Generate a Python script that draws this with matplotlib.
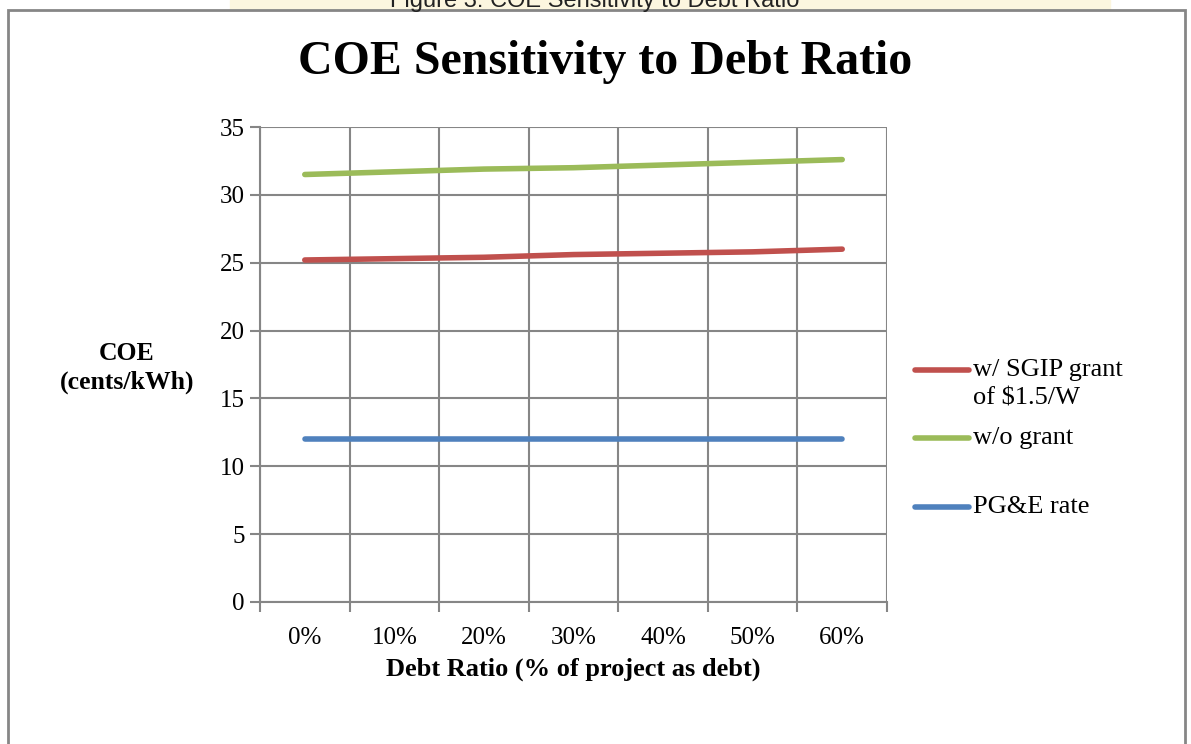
import matplotlib.pyplot as plt
from matplotlib.patches import Rectangle
from matplotlib.lines import Line2D

# Data
categories = ['0%', '10%', '20%', '30%', '40%', '50%', '60%']
with_grant = [25.2, 25.3, 25.4, 25.6, 25.7, 25.8, 26.0]
without_grant = [31.5, 31.7, 31.9, 32.0, 32.2, 32.4, 32.6]
pge_rate = [12, 12, 12, 12, 12, 12, 12]

series_labels = ['w/ SGIP grant\nof $1.5/W', 'w/o grant', 'PG&E rate']
series_colors = ['#c0504d', '#9bbb59', '#4f81bd']

W, H = 1191, 744
plt.rcParams['font.family'] = ['Liberation Serif', 'DejaVu Serif']

fig = plt.figure(figsize=(W / 100, H / 100), dpi=100)

# pale watermark strip and clipped caption at the very top
fig.patches.append(Rectangle((230 / W, 1 - 10 / H), 880 / W, 10 / H,
                             transform=fig.transFigure, color='#fcf6df', zorder=0))
fig.text(595 / W, 1 - 1 / H, 'Figure 3: COE Sensitivity to Debt Ratio',
         family='Liberation Sans', fontsize=17, ha='center', va='center', color='#222222')

# chart border
fig.patches.append(Rectangle((8 / W, -0.05), (1185 - 8) / W, 1 - 10 / H + 0.05,
                             transform=fig.transFigure, fill=False,
                             edgecolor='#868686', linewidth=2, zorder=1))

ax = fig.add_axes([260 / W, 1 - 602 / H, (887 - 260) / W, (602 - 127) / H])
x = list(range(len(categories)))
ax.plot(x, with_grant, color=series_colors[0], linewidth=4, solid_capstyle='round')
ax.plot(x, without_grant, color=series_colors[1], linewidth=4, solid_capstyle='round')
ax.plot(x, pge_rate, color=series_colors[2], linewidth=4, solid_capstyle='round')

ax.set_xlim(-0.5, len(categories) - 0.5)
ax.set_ylim(0, 35)
ax.set_yticks(range(0, 36, 5))
ax.set_xticks(x)
ax.set_xticklabels(categories)
ax.set_xticks([i + 0.5 for i in range(-1, len(categories))], minor=True)
ax.grid(True, which='minor', axis='x', color='#868686', linewidth=1.5)
ax.grid(True, which='major', axis='y', color='#868686', linewidth=1.5)
ax.set_axisbelow(True)
ax.tick_params(axis='x', which='major', length=0, pad=18, labelsize=18)
ax.tick_params(axis='x', which='minor', length=7, color='#868686', width=1.5)
ax.tick_params(axis='y', length=7, color='#868686', width=1.5, pad=4, labelsize=18)
for side in ['top', 'right']:
    ax.spines[side].set_visible(False)
for side in ['left', 'bottom']:
    ax.spines[side].set_color('#868686')
    ax.spines[side].set_linewidth(1.5)

ax.set_xlabel('Debt Ratio (% of project as debt)', fontsize=19, fontweight='bold', labelpad=6)

fig.text(127 / W, 1 - 368 / H, 'COE\n(cents/kWh)', fontsize=18.5, fontweight='bold',
         ha='center', va='center', linespacing=1.35)
fig.text(605 / W, 1 - 62 / H, 'COE Sensitivity to Debt Ratio', fontsize=34.5,
         fontweight='bold', ha='center', va='center')

# legend on the right
legend_y = [370, 438, 507]
for label, color, ly in zip(series_labels, series_colors, legend_y):
    fig.lines.append(Line2D([915 / W, 969 / W], [1 - ly / H, 1 - ly / H],
                            transform=fig.transFigure, color=color, linewidth=4,
                            solid_capstyle='round'))
    fig.text(973 / W, 1 - (ly - 11) / H, label, fontsize=19, ha='left', va='top',
             linespacing=1.4)

fig.savefig('out.png', dpi=100)
